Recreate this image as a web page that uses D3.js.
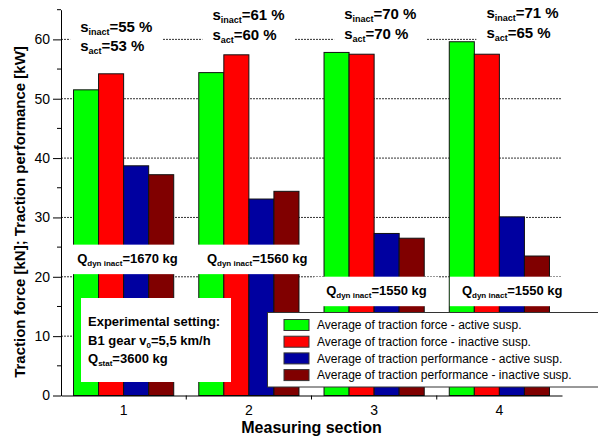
<!DOCTYPE html>
<html>
<head>
<meta charset="utf-8">
<script src="https://cdn.jsdelivr.net/npm/d3@7"></script>
<style>
  body { margin: 0; background: #fff; }
  svg { display: block; }
  text { font-family: "Liberation Sans", Arial, Helvetica, sans-serif; fill: #000; }
</style>
</head>
<body>
<svg id="chart" width="598" height="438"></svg>
<script>
// ---- data ----
const sections = ["1", "2", "3", "4"];
const forceActive = [51.5, 54.4, 57.8, 59.6];     // kN
const forceInactive = [54.2, 57.4, 57.5, 57.5];   // kN
const perfActive = [38.7, 33.1, 27.3, 30.1];      // kW
const perfInactive = [37.2, 34.4, 26.5, 23.5];    // kW
const seriesNames = [
  "Average of traction force - active susp.",
  "Average of traction force - inactive susp.",
  "Average of traction performance - active susp.",
  "Average of traction performance - inactive susp."
];
const seriesColors = ["#00ff00", "#ff0000", "#0000a0", "#800000"];
const slipInactive = [55, 61, 70, 71];   // %
const slipActive = [53, 60, 70, 65];     // %
const qDynInactive = [1670, 1560, 1550, 1550]; // kg
const yMajorTicks = [0, 10, 20, 30, 40, 50, 60];
const yMinorTicks = [5, 15, 25, 35, 45, 55, 65];

// annotation placement: x offset from group centre (px), baseline in axis units
const slipLabelPlace = [
  { dx: -43.5, y: 61.3 }, { dx: -36.5, y: 63.3 }, { dx: -30, y: 63.45 }, { dx: -13, y: 63.55 }
];
const qLabelPlace = [
  { dx: -46.5, y: 22.3 }, { dx: -42, y: 22.3 }, { dx: -48, y: 16.9 }, { dx: -37.5, y: 16.9 }
];

const series = [forceActive, forceInactive, perfActive, perfInactive];

// ---- layout ----
const svg = d3.select("#chart");
const plotL = 61, plotR = 562, plotT = 9.7, plotB = 395.5;

const x = d3.scaleBand().domain(sections).range([plotL, plotR]).padding(0);
const bw = x.bandwidth();
const xs = d3.scaleBand().domain(d3.range(series.length)).range([0.1 * bw, 0.9 * bw]).padding(0);
const y = d3.scaleLinear().domain([0, 65]).range([plotB, plotT]);

// gridlines
svg.append("g").selectAll("line")
  .data(yMajorTicks.filter(d => d > 0))
  .join("line")
  .attr("x1", plotL).attr("x2", plotR)
  .attr("y1", d => y(d)).attr("y2", d => y(d))
  .attr("stroke", "#333").attr("stroke-width", 1)
  .attr("stroke-dasharray", "2,1");

// bars
const groups = svg.append("g").selectAll("g")
  .data(sections)
  .join("g")
  .attr("transform", d => `translate(${x(d)},0)`);

groups.selectAll("rect")
  .data((d, i) => series.map((s, k) => ({ k, v: s[i] })))
  .join("rect")
  .attr("x", d => xs(d.k))
  .attr("width", xs.bandwidth())
  .attr("y", d => y(d.v))
  .attr("height", d => plotB - y(d.v))
  .attr("fill", d => seriesColors[d.k])
  .attr("stroke", "#111")
  .attr("stroke-width", 1);

// bold text with one subscript part
function subText(g, parts, size, subSize) {
  const t = g.append("text").attr("font-weight", "bold").attr("font-size", size);
  parts.forEach(p => {
    if (p.sub) {
      t.append("tspan").attr("font-size", subSize).attr("dy", 3).text(p.sub);
    } else {
      t.append("tspan").attr("dy", p.after ? -3 : 0).text(p.text);
    }
  });
  return t;
}

// slip labels
sections.forEach((s, i) => {
  const g = svg.append("g");
  const cx = x(s) + bw / 2 + slipLabelPlace[i].dx;
  const by = y(slipLabelPlace[i].y);
  const bg = g.append("rect").attr("fill", "#fff");
  const t1 = subText(g, [{ text: "s" }, { sub: "inact" }, { text: `=${slipInactive[i]} %`, after: true }], 15, 9)
    .attr("x", cx).attr("y", by);
  const t2 = subText(g, [{ text: "s" }, { sub: "act" }, { text: `=${slipActive[i]} %`, after: true }], 15, 9)
    .attr("x", cx).attr("y", by + 19.8);
  const b1 = t1.node().getBBox(), b2 = t2.node().getBBox();
  const x0 = Math.min(b1.x, b2.x) - 10, x1 = Math.max(b1.x + b1.width, b2.x + b2.width) + 10;
  bg.attr("x", x0).attr("width", x1 - x0).attr("y", by - 15).attr("height", 19.8 + 20);
});

// dynamic load labels
sections.forEach((s, i) => {
  const g = svg.append("g");
  const lx = x(s) + bw / 2 + qLabelPlace[i].dx;
  const by = y(qLabelPlace[i].y);
  const bg = g.append("rect").attr("fill", "#fff");
  const t = subText(g, [{ text: "Q" }, { sub: "dyn inact" }, { text: `=${qDynInactive[i]} kg`, after: true }], 13, 8)
    .attr("x", lx).attr("y", by);
  const b = t.node().getBBox();
  bg.attr("x", b.x - 12).attr("width", b.width + 24).attr("y", by - 18.5).attr("height", 29.5);
});

// experimental setting box
const ex = svg.append("g");
ex.append("rect").attr("x", 81).attr("y", 298).attr("width", 150).attr("height", 84).attr("fill", "#fff");
ex.append("text").attr("x", 88).attr("y", 326).attr("font-weight", "bold").attr("font-size", 13)
  .text("Experimental setting:");
subText(ex, [{ text: "B1 gear v" }, { sub: "0" }, { text: "=5,5 km/h", after: true }], 13, 8)
  .attr("x", 88).attr("y", 345);
subText(ex, [{ text: "Q" }, { sub: "stat" }, { text: "=3600 kg", after: true }], 13, 8)
  .attr("x", 88).attr("y", 363);

// legend
const lg = svg.append("g");
lg.append("rect").attr("x", 267.5).attr("y", 312.5).attr("width", 340).attr("height", 74.5)
  .attr("fill", "#fff").attr("stroke", "#333").attr("stroke-width", 1);
const rows = lg.selectAll("g.row").data(seriesNames).join("g").attr("class", "row")
  .attr("transform", (d, i) => `translate(0,${325 + i * 16.7})`);
rows.append("rect").attr("x", 284).attr("y", -5.5).attr("width", 25).attr("height", 11)
  .attr("fill", (d, i) => seriesColors[i]).attr("stroke", "#333").attr("stroke-width", 1);
rows.append("text").attr("x", 317).attr("y", 4.2).attr("font-size", 12).text(d => d);

// y axis
const yAxis = svg.append("g").attr("transform", `translate(${plotL},0)`)
  .call(d3.axisLeft(y).tickValues(yMajorTicks).tickSize(8).tickSizeOuter(0).tickPadding(3)
    .tickFormat(d3.format("d")));
yAxis.selectAll("text").attr("font-size", 14).style("font-family", '"Liberation Sans", Arial, sans-serif');
yAxis.selectAll("line, path").attr("stroke", "#000");
svg.append("g").attr("transform", `translate(${plotL},0)`)
  .selectAll("line").data(yMinorTicks).join("line")
  .attr("x1", -4).attr("x2", 0).attr("y1", d => y(d)).attr("y2", d => y(d)).attr("stroke", "#000");

// x axis
const xAxis = svg.append("g").attr("transform", `translate(0,${plotB})`)
  .call(d3.axisBottom(x).tickSize(0).tickSizeOuter(0).tickPadding(10));
xAxis.selectAll("text").attr("font-size", 14).style("font-family", '"Liberation Sans", Arial, sans-serif');
xAxis.select("path").attr("stroke", "#000");
svg.append("g").selectAll("line").data(sections.slice(1)).join("line")
  .attr("x1", d => x(d)).attr("x2", d => x(d)).attr("y1", plotB).attr("y2", plotB + 4)
  .attr("stroke", "#000");

// axis titles
svg.append("text").attr("x", (plotL + plotR) / 2).attr("y", 433).attr("text-anchor", "middle")
  .attr("font-weight", "bold").attr("font-size", 16).text("Measuring section");
svg.append("text").attr("transform", `translate(25,212) rotate(-90)`).attr("text-anchor", "middle")
  .attr("font-weight", "bold").attr("font-size", 15)
  .text("Traction force [kN]; Traction performance [kW]");
</script>
</body>
</html>
